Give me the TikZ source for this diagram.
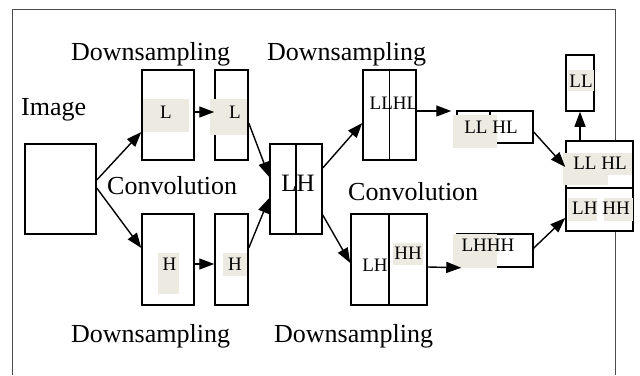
\documentclass[tikz,border=0pt]{standalone}
\usepackage{fontspec}
\setmainfont{Liberation Serif}
\usepackage{tikz}
\usetikzlibrary{positioning, arrows.meta}
\definecolor{tint}{HTML}{ECEAE1}

\begin{document}
\begin{tikzpicture}[x=1pt, y=-1pt,
  box/.style={draw, line width=1.5pt, fill=white, inner sep=0pt},
  lbl/.style={font=\fontsize{26}{30}\selectfont, inner sep=0pt},
  tag/.style={font=\fontsize{19}{21}\selectfont, inner sep=0pt},
  arr/.style={-{Triangle[length=15pt, width=11pt]}, line width=1.4pt},
  shade/.style={fill=tint}]
\useasboundingbox (0,0) rectangle (640,375);
\draw[gray!60!black, line width=0.9pt] (12,375) -- (12,9) -- (615,9) -- (615,375);

% boxes
\node[box, minimum width=71pt, minimum height=90pt] (img) at (60.5,189) {};
\node[box, minimum width=52pt, minimum height=90pt] (l1) at (168,115) {};
\node[box, minimum width=33pt, minimum height=90pt] (l2) at (231.5,115) {};
\node[box, minimum width=52pt, minimum height=91pt] (h1) at (168,259.5) {};
\node[box, minimum width=33pt, minimum height=91pt] (h2) at (231.5,259.5) {};
\node[box, minimum width=52pt, minimum height=90pt] (lh) at (296,189) {};
\node[box, minimum width=53pt, minimum height=90pt] (llhl) at (389.5,115) {};
\node[box, minimum width=76pt, minimum height=91pt] (lhhh) at (389,259.5) {};
\node[box, minimum width=76pt, minimum height=32pt] (sm1) at (495,127) {};
\node[box, minimum width=76pt, minimum height=33pt] (sm2) at (495,250.5) {};
\node[box, minimum width=67pt, minimum height=90pt] (fin) at (599.5,186) {};
\node[box, minimum width=28pt, minimum height=56pt] (ll) at (580,83) {};

\draw[line width=1.5pt] (lh.north) -- (lh.south);
\draw[line width=1.5pt] (llhl.north) -- (llhl.south);
\draw[line width=1.5pt] (lhhh.north) -- (lhhh.south);
\draw[line width=1.5pt] ([xshift=-5pt]sm1.north) -- ([xshift=-5pt]sm1.south);
\draw[line width=1.5pt] ([yshift=-2pt]fin.west) -- ([yshift=-2pt]fin.east);

% tinted patches behind the letters
\fill[shade] (143,99) rectangle (189,132);
\fill[shade] (210,99) rectangle (247,135);
\fill[shade] (158,253) rectangle (179,294);
\fill[shade] (223,253) rectangle (247,276);
\fill[shade] (453,115) rectangle (497,148);
\fill[shade] (393,243) rectangle (423,265);
\fill[shade] (453,234) rectangle (497,268);
\fill[shade] (563,153) rectangle (608,185);
\fill[shade] (608,153) rectangle (632,175);
\fill[shade] (568,198) rectangle (597,221);
\fill[shade] (604,198) rectangle (633,221);
\fill[shade] (568,70) rectangle (594,91);

% labels
\node[lbl, anchor=base west] (timg) at (21,115) {Image};
\node[lbl, anchor=base west] (tds1) at (71,60) {Downsampling};
\node[lbl, anchor=base west] (tds2) at (267,60) {Downsampling};
\node[lbl, anchor=base west] (tcv1) at (107,194) {Convolution};
\node[lbl, anchor=base west] (tcv2) at (348,200) {Convolution};
\node[lbl, anchor=base west] (tds3) at (71,342) {Downsampling};
\node[lbl, anchor=base west] (tds4) at (274,342) {Downsampling};

\node[tag] (tl1) at (166,112) {L};
\node[tag] (tl2) at (235,112) {L};
\node[tag] (th1) at (169.5,264) {H};
\node[tag] (th2) at (235,264) {H};
\node[font=\fontsize{25}{27}\selectfont, inner sep=0pt] (tlh) at (298,183) {LH};
\node[tag] (tllhl) at (394,103) {LLHL};
\node[tag] (tsm1) at (491,127) {LL HL};
\node[tag] (tlhb) at (375,265) {LH};
\node[tag] (thhb) at (408,253) {HH};
\node[tag] (tsm2) at (488,245) {LHHH};
\node[tag] (tfin1) at (600,163) {LL HL};
\node[tag] (tfin2) at (601,208) {LH HH};
\node[tag] (tll) at (581,81) {LL};

% connectors
\draw[arr] ([yshift=9pt]img.east) -- ([yshift=-17pt]l1.west);
\draw[arr] ([yshift=1pt]img.east) -- ([yshift=11.5pt]h1.west);
\draw[arr] ([yshift=3pt]l1.east) -- ([yshift=3pt]l2.west);
\draw[arr] ([yshift=-4.5pt]h1.east) -- ([yshift=-4.5pt]h2.west);
\draw[arr] ([yshift=-8pt]l2.east) -- ([yshift=12pt]lh.west);
\draw[arr] ([yshift=11.5pt]h2.east) -- ([yshift=-9pt]lh.west);
\draw[arr] ([yshift=21pt]lh.east) -- ([yshift=-8pt]llhl.west);
\draw[arr] ([yshift=-26pt]lh.east) -- ([yshift=-3.5pt]lhhh.west);
\draw[arr] ([yshift=4pt]llhl.east) -- ([xshift=-5pt, yshift=16pt]sm1.west);
\draw[arr] ([yshift=-7.5pt]lhhh.east) -- ([xshift=5pt]sm2.south west);
\draw[arr] ([yshift=-5pt]sm1.east) -- ([yshift=19pt]fin.west);
\draw[arr] ([yshift=2.5pt]sm2.east) -- ([yshift=-32pt]fin.west);
\draw[arr] (fin.north -| ll.south) -- (ll.south);
\end{tikzpicture}
\end{document}
